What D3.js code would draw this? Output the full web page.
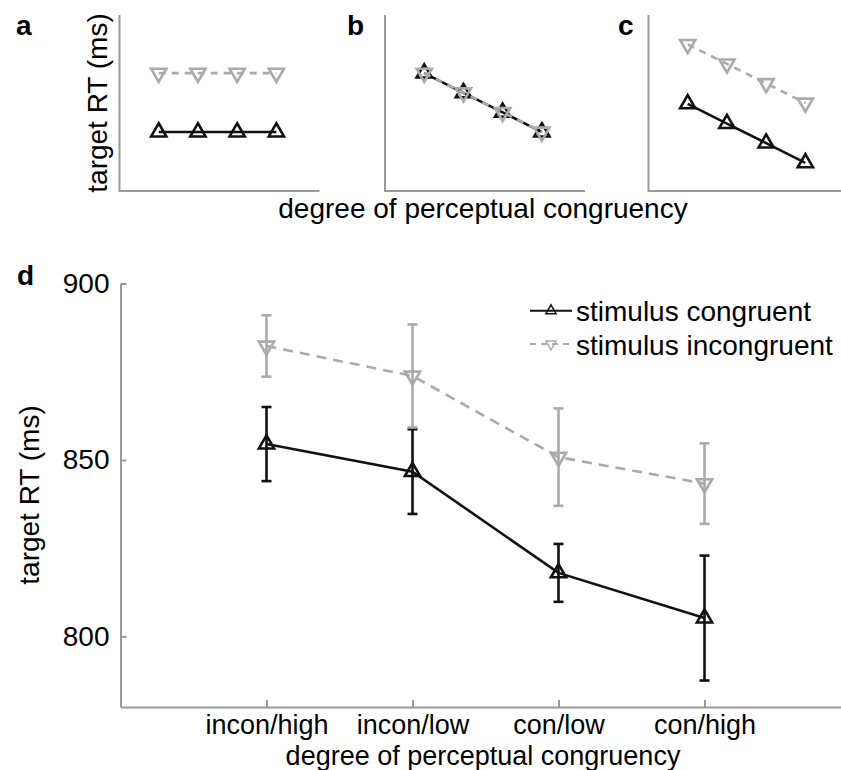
<!DOCTYPE html>
<html>
<head>
<meta charset="utf-8">
<script src="https://cdn.jsdelivr.net/npm/d3@7"></script>
<style>
  body { margin: 0; background: #fff; }
  svg text { font-family: "Liberation Sans", Arial, Helvetica, sans-serif; }
</style>
</head>
<body>
<div id="figure"></div>
<script>
// panel d data
const conditions = ["incon/high", "incon/low", "con/low", "con/high"];
const congruentRT = [854.5, 846.7, 818, 805.2];
const congruentErr = [10.5, 12, 8.2, 17.7];
const incongruentRT = [882.3, 873.8, 850.8, 843.3];
const incongruentErr = [8.7, 14.6, 13.8, 11.4];
const yTicks = [800, 850, 900];
const seriesNames = ["stimulus congruent", "stimulus incongruent"];

// schematic panels a-c (arbitrary units, 0-100)
const schemaPanels = ["a", "b", "c"];
const schemaCongruent = [
  [33.5, 33.5, 33.5, 33.5],
  [67, 55.8, 44.7, 33.5],
  [49.5, 38.3, 27.2, 16]
];
const schemaIncongruent = [
  [67, 67, 67, 67],
  [67, 55.8, 44.7, 33.5],
  [83.3, 72.2, 61.1, 50]
];

const width = 841, height = 770;
const black = "#111", grey = "#aaa", axisGrey = "#9a9a9a";
const fontSize = 28;

const svg = d3.select("#figure")
  .append("svg")
  .attr("width", width)
  .attr("height", height);

const triangle = d3.symbol().type(d3.symbolTriangle).size(100);
const smallTriangle = d3.symbol().type(d3.symbolTriangle).size(45);

function drawMarkers(g, xs, ys, values, color, down) {
  g.selectAll(null)
    .data(values)
    .join("path")
    .attr("d", triangle)
    .attr("transform", (d, i) => `translate(${xs(i + 1)},${ys(d)})` + (down ? " rotate(180)" : ""))
    .attr("fill", "none")
    .attr("stroke", color)
    .attr("stroke-width", 2.6)
    .attr("stroke-linejoin", "miter");
}

function drawLine(g, xs, ys, values, color, dash) {
  const line = d3.line().x((d, i) => xs(i + 1)).y(d => ys(d));
  g.append("path")
    .datum(values)
    .attr("d", line)
    .attr("fill", "none")
    .attr("stroke", color)
    .attr("stroke-width", 2.6)
    .attr("stroke-dasharray", dash || null);
}

///////// TOP SCHEMATIC PANELS

const panelLeft = [119.5, 385, 648.5];
const panelLabelX = [16, 347, 618];
const topY = d3.scaleLinear().domain([0, 100]).range([191, 15]);

schemaPanels.forEach((name, p) => {
  const xs = d3.scaleLinear().domain([0, 5.1]).range([panelLeft[p], panelLeft[p] + 200]);
  const g = svg.append("g").attr("class", "panel-" + name);

  g.append("path")
    .attr("d", `M${xs(0)},${topY(100)}V${topY(0)}H${xs(5.1)}`)
    .attr("fill", "none")
    .attr("stroke", axisGrey)
    .attr("stroke-width", 2);

  drawLine(g, xs, topY, schemaCongruent[p], black);
  drawMarkers(g, xs, topY, schemaCongruent[p], black, false);
  drawLine(g, xs, topY, schemaIncongruent[p], grey, "7,6");
  drawMarkers(g, xs, topY, schemaIncongruent[p], grey, true);

  svg.append("text")
    .attr("x", panelLabelX[p])
    .attr("y", 35)
    .attr("font-size", fontSize)
    .attr("font-weight", "bold")
    .text(name);
});

svg.append("text")
  .attr("transform", "translate(107,103) rotate(-90)")
  .attr("text-anchor", "middle")
  .attr("font-size", fontSize)
  .text("target RT (ms)");

svg.append("text")
  .attr("x", 483)
  .attr("y", 218)
  .attr("text-anchor", "middle")
  .attr("font-size", fontSize)
  .text("degree of perceptual congruency");

///////// PANEL D

const xScale = d3.scaleLinear().domain([0, 5]).range([120.5, 850.5]);
const yScale = d3.scaleLinear().domain([780, 900]).range([707, 283.5]);

const gd = svg.append("g").attr("class", "panel-d");

const yAxis = gd.append("g")
  .attr("transform", `translate(${xScale(0)},0)`)
  .call(d3.axisLeft(yScale).tickValues(yTicks).tickSizeInner(-6).tickSizeOuter(0).tickPadding(11));

const xAxis = gd.append("g")
  .attr("transform", `translate(0,${yScale(780)})`)
  .call(d3.axisBottom(xScale).tickValues([1, 2, 3, 4]).tickFormat(d => conditions[d - 1])
    .tickSizeInner(-7).tickSizeOuter(0).tickPadding(8));

[yAxis, xAxis].forEach(ax => {
  ax.attr("font-size", fontSize).attr("font-family", null);
  ax.selectAll("path, line").attr("stroke", axisGrey).attr("stroke-width", 2);
  ax.selectAll("text").attr("fill", "#000");
});
xAxis.attr("font-size", 27);

function drawErrorBars(g, values, errs, color) {
  const bars = g.selectAll(null)
    .data(values.map((v, i) => ({ v, e: errs[i], i })))
    .join("g")
    .attr("stroke", color)
    .attr("stroke-width", 2.6);
  bars.append("line")
    .attr("x1", d => xScale(d.i + 1)).attr("x2", d => xScale(d.i + 1))
    .attr("y1", d => yScale(d.v - d.e)).attr("y2", d => yScale(d.v + d.e));
  [-1, 1].forEach(s => {
    bars.append("line")
      .attr("x1", d => xScale(d.i + 1) - 5).attr("x2", d => xScale(d.i + 1) + 5)
      .attr("y1", d => yScale(d.v + s * d.e)).attr("y2", d => yScale(d.v + s * d.e));
  });
}

drawErrorBars(gd, congruentRT, congruentErr, black);
drawLine(gd, xScale, yScale, congruentRT, black);
drawMarkers(gd, xScale, yScale, congruentRT, black, false);
drawErrorBars(gd, incongruentRT, incongruentErr, grey);
drawLine(gd, xScale, yScale, incongruentRT, grey, "10,7");
drawMarkers(gd, xScale, yScale, incongruentRT, grey, true);

// legend
const legend = gd.append("g").attr("transform", "translate(530,310.7)");
seriesNames.forEach((name, i) => {
  const row = legend.append("g").attr("transform", `translate(0,${i * 33.3})`);
  const color = i === 0 ? black : grey;
  row.append("line")
    .attr("x1", 0).attr("x2", 42)
    .attr("stroke", color)
    .attr("stroke-width", 2)
    .attr("stroke-dasharray", i === 0 ? null : "6,5");
  row.append("path")
    .attr("d", smallTriangle)
    .attr("transform", "translate(21,0)" + (i === 0 ? "" : " rotate(180)"))
    .attr("fill", "none")
    .attr("stroke", color)
    .attr("stroke-width", 1.5);
  row.append("text")
    .attr("x", 46)
    .attr("dy", "0.38em")
    .attr("font-size", fontSize)
    .text(name);
});

svg.append("text")
  .attr("x", 17)
  .attr("y", 285)
  .attr("font-size", fontSize)
  .attr("font-weight", "bold")
  .text("d");

svg.append("text")
  .attr("transform", "translate(39,495) rotate(-90)")
  .attr("text-anchor", "middle")
  .attr("font-size", fontSize)
  .text("target RT (ms)");

svg.append("text")
  .attr("x", 483)
  .attr("y", 765)
  .attr("text-anchor", "middle")
  .attr("font-size", 27)
  .text("degree of perceptual congruency");
</script>
</body>
</html>
